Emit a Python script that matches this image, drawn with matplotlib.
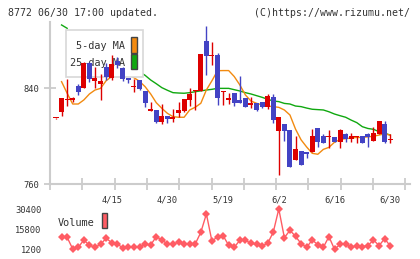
import numpy as np
import matplotlib
matplotlib.use("Agg")
import matplotlib.pyplot as plt
from matplotlib.patches import Rectangle
from matplotlib.ticker import FixedLocator

# ---------------- data ----------------
opens = [815, 820.6, 830, 830.4, 842.3, 840.2, 861, 846.5, 843.5, 858.3,
         848.5, 863.4, 857.5, 848.5, 841, 847, 837.9, 821.5, 822, 812.2,
         817, 814.8, 819.2, 821.4, 830.4, 837.8, 838.2, 879.8, 867, 868,
         837, 830.4, 836, 830.4, 832, 826.2, 828.1, 828.7, 824.8, 832.6,
         804.7, 810.3, 805.2, 780.1, 788, 786.8, 787.1, 806.7, 800.2, 799.1,
         799.1, 795.4, 801.9, 797.5, 799.1, 800.2, 801.9, 796.3, 802, 810.3,
         796.5]
highs = [815.5, 832, 848, 833, 843.8, 862, 862, 858.3, 852, 861,
         868, 866, 858, 849, 847.7, 847.5, 838, 829, 822, 827,
         817, 822.6, 829, 831.5, 840.1, 838.5, 869, 892.3, 879, 869.5,
         837.6, 836, 836, 850.5, 832, 832.6, 828.1, 829, 835.4, 835.4,
         816, 810.3, 805.2, 800.2, 788, 787, 805.8, 806.7, 801.5, 805.2,
         799.5, 806, 802.5, 803, 800.5, 800.5, 802.5, 808, 812.8, 812.8,
         801.9]
lows = [814.5, 817, 825, 829, 834.6, 840, 845.7, 840.1, 830.4, 847,
        847, 857, 846, 845, 837.3, 839, 824.8, 821.4, 811, 810.3,
        811, 812.2, 816.4, 820, 825.3, 822, 838, 851.3, 859.7, 826.2,
        826.2, 826.8, 825.6, 828, 824.8, 823.4, 821, 824, 822.6, 810.9,
        767.6, 796.3, 774.5, 780, 775.9, 781.5, 787, 791.3, 794.6, 789.9,
        795, 790.1, 795.4, 795.4, 794.1, 794.3, 791.3, 796, 802, 794.6,
        794.1]
closes = [815.5, 832, 831.5, 832.3, 837.3, 861, 847.7, 849, 846.5, 849.4,
          860.5, 859.7, 847.7, 846.8, 842, 839.6, 827.6, 822.5, 812.2, 817,
          814.5, 815.3, 822, 831.2, 835.4, 838.3, 868.9, 867.2, 868, 832.3,
          837.5, 832.3, 828.1, 828.1, 824.8, 828.1, 822, 824.8, 833.7, 813.6,
          815.9, 804.7, 774.5, 789.1, 775.9, 785.1, 800.2, 795.4, 794.6, 800.2,
          795.4, 805.2, 797.5, 800.2, 800.2, 794.6, 799.6, 803, 812.8, 795.4,
          797]
ma5 = [np.nan, 845.7, 836, 827, 827, 830.4, 835.4, 838.7, 840.1, 846.5,
       849.9, 852.7, 852.5, 852, 849, 846, 841.5, 835.4, 828.1, 823.4,
       819.2, 816.4, 815.9, 815.9, 822, 824.3, 827.6, 838.8, 846.5, 854.9,
       855, 855, 850, 843, 834.6, 829.5, 827.6, 826.2, 825.3, 824.8,
       824.2, 822, 817.8, 806, 797, 791, 785.7, 784.9, 789, 790.7,
       795, 797.3, 798, 798.5, 799, 799, 799.5, 800, 801, 802,
       801]
ma25 = [np.nan, 893.2, 890.4, np.nan, np.nan, np.nan, np.nan, np.nan, np.nan, np.nan,
        np.nan, np.nan, np.nan, np.nan, np.nan, 854, 851, 847.1, 844, 840.7,
        838.5, 836.5, 836.2, 836, 836.5, 837.3, 838, 838.7, 839.3, 840.1,
        840.1, 840.1, 839, 837.9, 836.5, 835.4, 834, 832.6, 831, 829.5,
        829, 827.5, 827, 825.3, 824.8, 823.6, 822.6, 822.3, 822, 820.5,
        818.6, 817.2, 815.9, 813.5, 811.4, 808, 806.5, 805.8, 803.8, 802.5,
        801]
volumes = [np.nan, 9894, 9894, 1440, 2650, 7960, 4100, 2650, 4820, 9170,
           6030, 5300, 1920, 2650, 3130, 2650, 4820, 4340, 10380, 7960,
           5060, 5060, 6270, 4820, 4820, 5060, 13520, 26800, 7000, 10380,
           11100, 4100, 2650, 7720, 7720, 5550, 4820, 3620, 5550, 13520,
           30400, 9650, 14960, 10620, 5300, 2650, 7960, 4580, 2650, 10380,
           1200, 4820, 4820, 2650, 3860, 3130, 3860, 7960, 3860, 8930,
           3620]
date_labels = ["4/15", "4/30", "5/19", "6/2", "6/16", "6/30"]
date_index = [10, 20, 30, 40, 50, 60]
price_ticks = [760, 840]
vol_ticks = [1200, 15800, 30400]
header_left = "8772 06/30 17:00 updated."
header_right = "(C)https://www.rizumu.net/"

# ---------------- style ----------------
W, H = 420, 259
FONT = "DejaVu Sans Mono"
RED = "#dd0000"
BLUE = "#4343c4"
ORANGE = "#f28a10"
GREEN = "#10a810"
VOLC = "#ff5c64"
GRID = "#cccccc"
TXT = "#333333"

def fx(x):
    return x / W

def fy(y):
    return 1 - y / H

fig = plt.figure(figsize=(W / 100, H / 100), dpi=100)
fig.patch.set_facecolor("white")

AX_L, AX_R, AX_T, AX_B = 50, 410, 22, 184
X0, DX = 56.0, 5.57
PX_PER_UNIT = 1.194
n = len(closes)
xs = np.arange(n)
xlim = ((AX_L - X0) / DX, (AX_R - X0) / DX)
ylim = (760, 760 + (AX_B - AX_T) / PX_PER_UNIT)

ax = fig.add_axes([fx(AX_L), fy(AX_B), (AX_R - AX_L) / W, (AX_B - AX_T) / H])
ax.set_xlim(*xlim)
ax.set_ylim(*ylim)
ax.set_facecolor("none")
for s in ["top", "right"]:
    ax.spines[s].set_visible(False)
for s in ["left", "bottom"]:
    ax.spines[s].set_color(GRID)
    ax.spines[s].set_linewidth(1.5)

ax.plot(xs, ma25, color=GREEN, lw=1.0, zorder=2)
ax.plot(xs, ma5, color=ORANGE, lw=1.0, zorder=2)

ax.add_patch(Rectangle((fx(65.5), fy(76.7)), fx(143.3) - fx(65.5), fy(30) - fy(76.7),
                       transform=fig.transFigure, facecolor="white", edgecolor="#d8d8d8",
                       lw=1.2, zorder=3, clip_on=False))
ax.text(fx(125.5), fy(46), "5-day MA", transform=fig.transFigure, ha="right", va="center",
        fontsize=7.3, family=FONT, color=TXT, zorder=3.5)
ax.text(fx(125.5), fy(62.5), "25-day MA", transform=fig.transFigure, ha="right", va="center",
        fontsize=7.3, family=FONT, color=TXT, zorder=3.5)
ax.add_patch(Rectangle((fx(131), fy(52.7)), fx(6.3), fy(37.3) - fy(52.7),
                       transform=fig.transFigure, facecolor=ORANGE, edgecolor="#444444",
                       lw=1.0, zorder=3.5, clip_on=False))
ax.add_patch(Rectangle((fx(131), fy(69.3)), fx(6.3), fy(54.3) - fy(69.3),
                       transform=fig.transFigure, facecolor=GREEN, edgecolor="#444444",
                       lw=1.0, zorder=3.5, clip_on=False))

o = np.array(opens); c = np.array(closes)
hi = np.array(highs); lo = np.array(lows)
up = c >= o
cols = np.where(up, RED, BLUE)
ax.vlines(xs, lo, hi, colors=cols, lw=1.0, zorder=4)
bottom = np.minimum(o, c)
height = np.maximum(np.abs(c - o), 0.9)
ax.bar(xs, height, bottom=bottom, width=0.9, color=cols, linewidth=0, zorder=5)

ax.set_yticks(price_ticks)
ax.set_yticklabels([str(v) for v in price_ticks])
ax.tick_params(axis="y", direction="inout", length=8, width=1.3, color=GRID,
               labelsize=6.3, labelcolor=TXT, pad=4)
grid_px = np.linspace(AX_L, 405.3, 12)
ax.xaxis.set_minor_locator(FixedLocator((grid_px - X0) / DX))
ax.set_xticks(date_index)
ax.set_xticklabels(date_labels)
ax.tick_params(axis="x", which="major", length=0, labelsize=6.3, labelcolor=TXT, pad=8)
ax.tick_params(axis="x", which="minor", direction="inout", length=8, width=1.3, color=GRID)
for lab in ax.get_xticklabels() + ax.get_yticklabels():
    lab.set_family(FONT)

VT, VB = 209, 249.3
axv = fig.add_axes([fx(AX_L), fy(VB), (AX_R - AX_L) / W, (VB - VT) / H])
axv.set_xlim(*xlim)
axv.set_ylim(min(vol_ticks), max(vol_ticks))
axv.set_facecolor("none")
for s in axv.spines.values():
    s.set_visible(False)
axv.plot(xs, volumes, color=VOLC, lw=1.0, marker="D", ms=3.6, mew=0, mfc=VOLC,
         clip_on=False)
axv.set_xticks([])
axv.set_yticks(vol_ticks)
axv.set_yticklabels([str(v) for v in vol_ticks])
axv.tick_params(axis="y", length=0, labelsize=6.3, labelcolor=TXT, pad=6)
for lab in axv.get_yticklabels():
    lab.set_family(FONT)
fig.text(fx(58), fy(222.5), "Volume", ha="left", va="center", fontsize=7.4,
         family=FONT, color=TXT)
fig.patches.append(Rectangle((fx(101.7), fy(228)), fx(5.6), fy(213) - fy(228),
                             transform=fig.transFigure, facecolor=VOLC,
                             edgecolor="#444444", lw=1.0, figure=fig))

fig.text(fx(8), fy(13), header_left, ha="left", va="center", fontsize=7.1,
         family=FONT, color=TXT)
fig.text(fx(410), fy(13), header_right, ha="right", va="center", fontsize=7.1,
         family=FONT, color=TXT)

fig.savefig("out.png", dpi=100, facecolor="white")
